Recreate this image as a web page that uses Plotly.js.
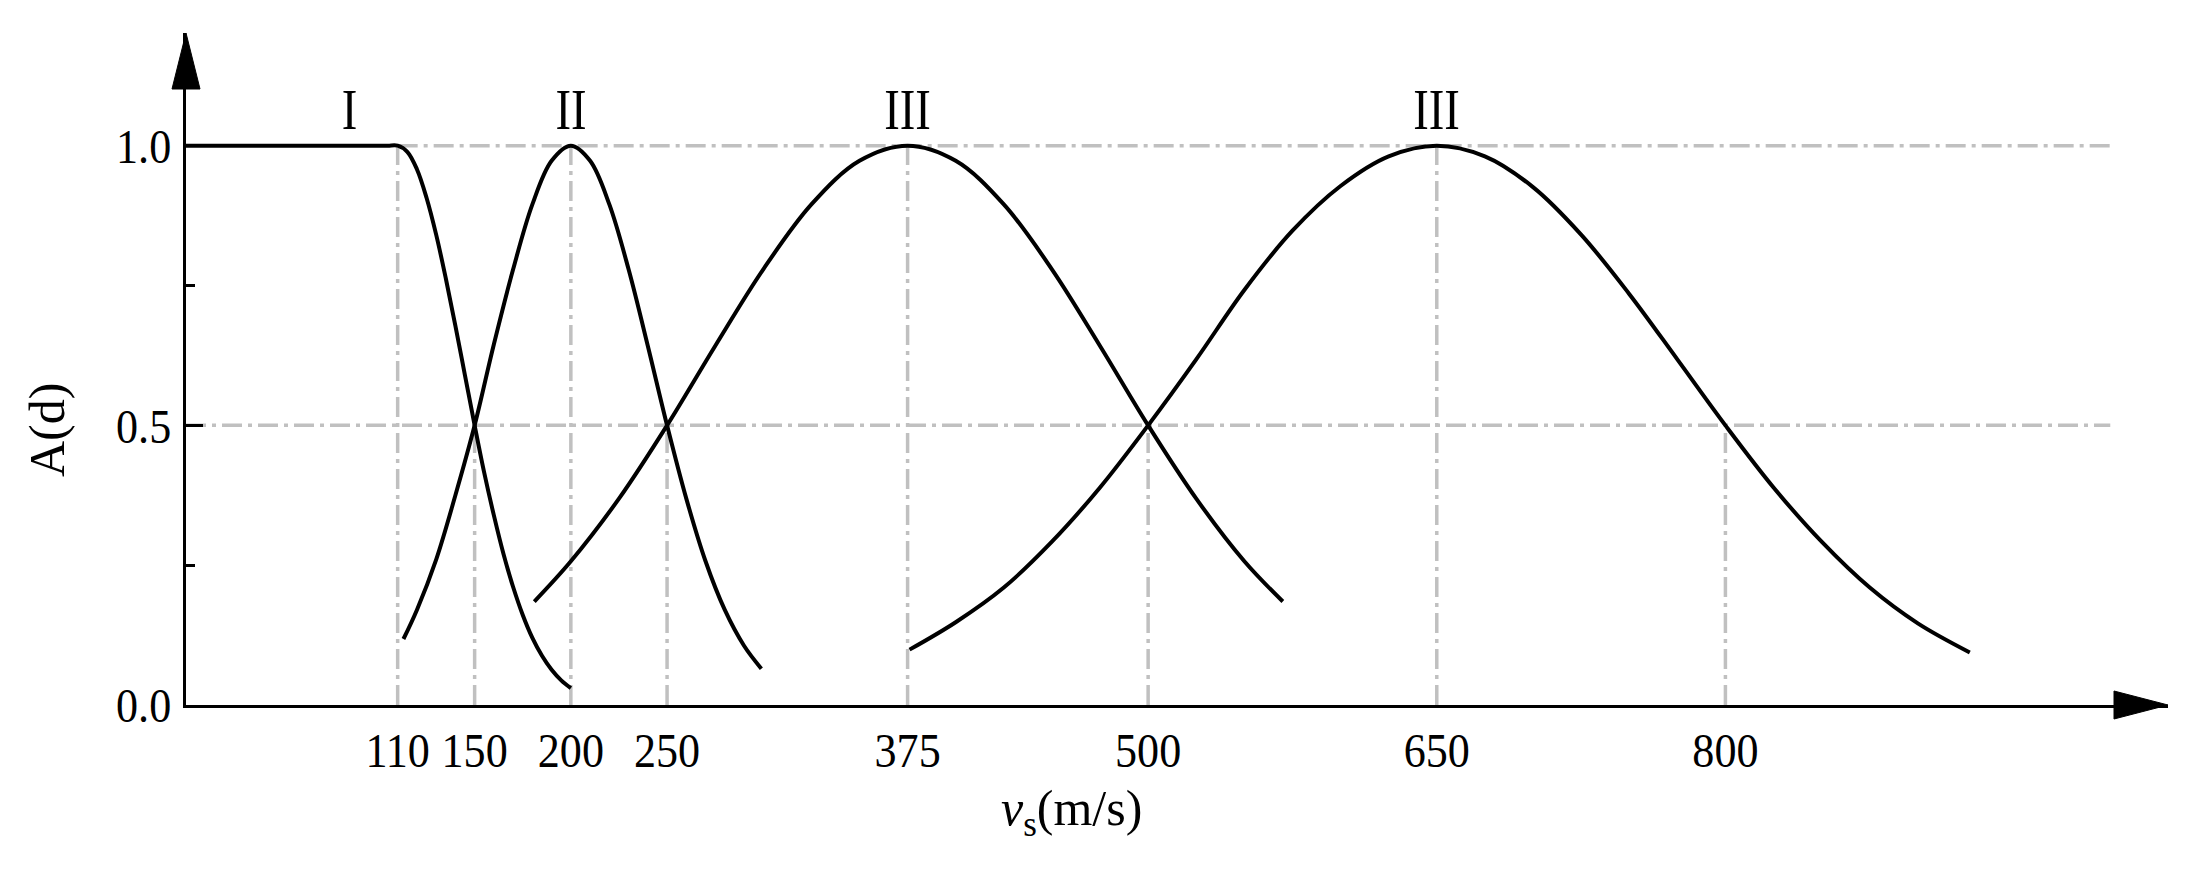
<!DOCTYPE html>
<html>
<head>
<meta charset="utf-8">
<title>A(d) - vs</title>
<script src="https://cdn.plot.ly/plotly-3.0.1.min.js"></script>
<style>
  html, body { margin: 0; padding: 0; background: #ffffff; }
  #chart { width: 2200px; height: 880px; }
</style>
</head>
<body>
<div id="chart"></div>
<script>
/* -----------------------------
   数据：四条隶属曲线
----------------------------- */
var curveIx = [0, 55, 100, 105, 110, 115, 120, 125, 130, 135, 140, 145, 150, 155, 160, 165, 170, 175, 180, 185, 190, 195, 200];
var curveIy = [1, 1, 1, 1, 1, 0.989, 0.958, 0.907, 0.841, 0.763, 0.678, 0.589, 0.5, 0.415, 0.339, 0.27, 0.211, 0.161, 0.12, 0.088, 0.063, 0.044, 0.03];

var curveIIx = [113, 120, 130, 140, 150, 160, 170, 180, 190, 200, 210, 220, 230, 240, 250, 260, 270, 280, 290, 299];
var curveIIy = [0.118, 0.17, 0.26, 0.375, 0.5, 0.645, 0.779, 0.895, 0.973, 1.0, 0.973, 0.895, 0.779, 0.642, 0.5, 0.369, 0.257, 0.17, 0.106, 0.065];

var curveIIIax = [181, 200, 225, 250, 275, 300, 325, 350, 375, 400, 425, 450, 475, 500, 525, 550, 570];
var curveIIIay = [0.185, 0.257, 0.369, 0.5, 0.642, 0.779, 0.895, 0.973, 1.0, 0.973, 0.895, 0.779, 0.642, 0.5, 0.369, 0.257, 0.185];

var curveIIIbx = [376, 400, 425, 450, 475, 500, 525, 550, 575, 600, 625, 650, 675, 700, 725, 750, 775, 800, 825, 850, 875, 900, 927];
var curveIIIby = [0.099, 0.148, 0.21, 0.292, 0.389, 0.5, 0.618, 0.742, 0.848, 0.928, 0.981, 1.0, 0.981, 0.926, 0.841, 0.735, 0.618, 0.5, 0.389, 0.292, 0.21, 0.146, 0.094];

// 坐标轴刻度
var xTickVals = [110, 150, 200, 250, 375, 500, 650, 800];
var xTickText = ['110', '150', '200', '250', '375', '500', '650', '800'];
var xGuideTop = [1.0, 0.5, 1.0, 0.5, 1.0, 0.5, 1.0, 0.5];   // 竖向辅助线的高度
var yTickVals = [0, 0.5, 1.0];
var yTickText = ['0.0', '0.5', '1.0'];
var yMinorVals = [0.25, 0.75];

// 水平辅助线
var hGuideLevels = [1.0, 0.5];
var hGuideStart = [110, 0];
var hGuideEnd = 1000;

// 区段标注
var regionNames = ['I', 'II', 'III', 'III'];
var regionX = [85, 200, 375, 650];
var regionY = 1.064;

/* -----------------------------
   版面常量
----------------------------- */
var ChartModule = {};
ChartModule.W = 2200;
ChartModule.H = 880;
ChartModule.margin = { l: 186, r: 32, t: 33, b: 175 };
ChartModule.xRange = [0, 1030];
ChartModule.yRange = [0, 1.2015];
ChartModule.font = 'Liberation Serif, Times New Roman, serif';
ChartModule.guideColor = '#c0c0c0';
ChartModule.guideDash = '20px,6px,4px,6px';

// 像素 -> paper 坐标
ChartModule.pxX = function (px) {
  var m = ChartModule.margin;
  return (px - m.l) / (ChartModule.W - m.l - m.r);
};
ChartModule.pxY = function (py) {
  var m = ChartModule.margin;
  return (ChartModule.H - m.b - py) / (ChartModule.H - m.t - m.b);
};

/* -----------------------------
   曲线
----------------------------- */
ChartModule.buildTraces = function () {
  var sets = [
    [curveIx, curveIy],
    [curveIIx, curveIIy],
    [curveIIIax, curveIIIay],
    [curveIIIbx, curveIIIby]
  ];
  return sets.map(function (s) {
    return {
      x: s[0],
      y: s[1],
      type: 'scatter',
      mode: 'lines',
      line: { color: '#000000', width: 4, shape: 'spline', smoothing: 1 },
      hoverinfo: 'skip',
      showlegend: false
    };
  });
};

/* -----------------------------
   辅助线与箭头
----------------------------- */
ChartModule.buildShapes = function () {
  var shapes = [];
  var guideLine = { color: ChartModule.guideColor, width: 3.5, dash: ChartModule.guideDash };

  // 竖向点划线
  xTickVals.forEach(function (v, i) {
    shapes.push({
      type: 'line', xref: 'x', yref: 'y', layer: 'below',
      x0: v, x1: v, y0: 0, y1: xGuideTop[i], line: guideLine
    });
  });
  // 水平点划线
  hGuideLevels.forEach(function (lv, i) {
    shapes.push({
      type: 'line', xref: 'x', yref: 'y', layer: 'below',
      x0: hGuideStart[i], x1: hGuideEnd, y0: lv, y1: lv, line: guideLine
    });
  });

  // x 轴箭头 (尖端 2168px, 底 2114px, 半高 14px)
  var xb = ChartModule.pxX(2114), xt = ChartModule.pxX(2168);
  var hh = 14 / (ChartModule.H - ChartModule.margin.t - ChartModule.margin.b);
  shapes.push({
    type: 'path', xref: 'paper', yref: 'paper', layer: 'above',
    path: 'M' + xb + ',' + (-hh) + ' L' + xt + ',0 L' + xb + ',' + hh + ' Z',
    fillcolor: '#000000', line: { color: '#000000', width: 1 }
  });
  // y 轴箭头 (尖端 33px, 底 89px, 半宽 14px)
  var yb = ChartModule.pxY(89), yt = ChartModule.pxY(33);
  var hw = 14 / (ChartModule.W - ChartModule.margin.l - ChartModule.margin.r);
  shapes.push({
    type: 'path', xref: 'paper', yref: 'paper', layer: 'above',
    path: 'M' + (-hw) + ',' + yb + ' L0,' + yt + ' L' + hw + ',' + yb + ' Z',
    fillcolor: '#000000', line: { color: '#000000', width: 1 }
  });
  return shapes;
};

/* -----------------------------
   文字标注
----------------------------- */
ChartModule.buildAnnotations = function () {
  var notes = regionNames.map(function (name, i) {
    return {
      x: regionX[i], y: regionY, xref: 'x', yref: 'y',
      text: name, showarrow: false,
      xanchor: 'center', yanchor: 'middle',
      font: { family: ChartModule.font, size: 57, color: '#000000' }
    };
  });
  // 纵轴标题
  notes.push({
    x: ChartModule.pxX(47), y: ChartModule.pxY(430), xref: 'paper', yref: 'paper',
    text: 'A(d)', textangle: -90, showarrow: false,
    xanchor: 'center', yanchor: 'middle',
    font: { family: ChartModule.font, size: 50, color: '#000000' }
  });
  // 横轴标题
  notes.push({
    x: ChartModule.pxX(1071), y: ChartModule.pxY(812), xref: 'paper', yref: 'paper',
    text: '<i>v</i><sub>s</sub>(m/s)', showarrow: false,
    xanchor: 'center', yanchor: 'middle',
    font: { family: ChartModule.font, size: 50, color: '#000000' }
  });
  return notes;
};

/* -----------------------------
   布局
----------------------------- */
ChartModule.buildLayout = function () {
  var tickFont = { family: ChartModule.font, size: 49, color: '#000000' };
  return {
    width: ChartModule.W,
    height: ChartModule.H,
    margin: ChartModule.margin,
    paper_bgcolor: '#ffffff',
    plot_bgcolor: '#ffffff',
    showlegend: false,
    xaxis: {
      range: ChartModule.xRange,
      showgrid: false, zeroline: false,
      showline: true, linecolor: '#000000', linewidth: 3,
      tickmode: 'array', tickvals: xTickVals, ticktext: xTickText,
      ticks: '', ticklabelstandoff: 0,
      tickfont: tickFont, fixedrange: true
    },
    yaxis: {
      range: ChartModule.yRange,
      showgrid: false, zeroline: false,
      showline: true, linecolor: '#000000', linewidth: 3,
      tickmode: 'array', tickvals: yTickVals, ticktext: yTickText,
      ticks: 'inside', ticklen: 17, tickwidth: 3, tickcolor: '#000000',
      ticklabelstandoff: 2,
      minor: { tickmode: 'array', tickvals: yMinorVals, ticks: 'inside', ticklen: 9, tickwidth: 3, tickcolor: '#000000', showgrid: false },
      tickfont: tickFont, fixedrange: true
    },
    shapes: ChartModule.buildShapes(),
    annotations: ChartModule.buildAnnotations()
  };
};

/* -----------------------------
   原图字体偏窄：横向压缩文字
----------------------------- */
ChartModule.squeeze = function (nodes, s) {
  Array.prototype.forEach.call(nodes, function (el) {
    var bb = el.getBBox();
    var anchor = el.getAttribute('text-anchor') || 'middle';
    var cx = bb.x + bb.width / 2;
    if (anchor === 'end') cx = bb.x + bb.width;
    if (anchor === 'start') cx = bb.x;
    var old = el.getAttribute('transform') || '';
    el.setAttribute('transform', old + ' translate(' + cx + ',0) scale(' + s + ',1) translate(' + (-cx) + ',0)');
  });
};

ChartModule.init = function () {
  Plotly.newPlot('chart', ChartModule.buildTraces(), ChartModule.buildLayout(), {
    staticPlot: true, displayModeBar: false
  }).then(function (gd) {
    ChartModule.squeeze(gd.querySelectorAll('.xtick text, .ytick text'), 0.9);
    var roman = Array.prototype.filter.call(gd.querySelectorAll('.annotation-text'), function (el) {
      return regionNames.indexOf(el.textContent) >= 0;
    });
    ChartModule.squeeze(roman, 0.82);
  });
};

ChartModule.init();
</script>
</body>
</html>
